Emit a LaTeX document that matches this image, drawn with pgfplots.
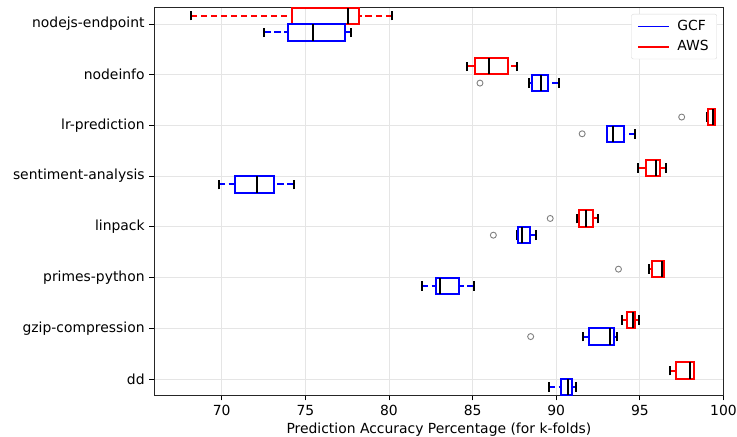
\documentclass[border=0pt]{standalone}
\usepackage{pgfplots}
\pgfplotsset{compat=1.18}
\usepgfplotslibrary{statistics}
\usepackage{fontspec}
\setmainfont{DejaVu Sans}
\usetikzlibrary{calc}
\newcommand{\fs}{\fontsize{13.9}{16}\selectfont}
\begin{document}
\fs
\begin{tikzpicture}
\begin{axis}[
  scale only axis, width=569pt, height=388pt,
  xmin=65.97, xmax=100, ymin=0.675, ymax=8.33,
  xtick={70,75,...,100},
  ytick={1,...,8},
  yticklabels={dd,gzip-compression,primes-python,linpack,sentiment-analysis,lr-prediction,nodeinfo,nodejs-endpoint},
  tick align=outside, tick pos=left,
  major tick length=4.9pt,
  every tick/.style={black, line width=0.8pt},
  axis line style={black!85, line width=0.9pt},
  grid=major, grid style={black!10, line width=0.8pt},
  xlabel={Prediction Accuracy Percentage (for k-folds)},
  xlabel style={yshift=2pt},
  /pgf/number format/assume math mode=true,
  tick label style={font=\fs},
  label style={font=\fs},
  boxplot/draw direction=x,
  boxplot/box extend=0.32,
  boxplot/whisker extend=0.19,
  boxplot/every median/.style={black, line width=2pt},
  boxplot/every whisker/.style={dash pattern=on 6.5pt off 3.5pt, line width=2pt},
  boxplot/every box/.style={line width=2pt},
  boxplot/draw/lower whisker/.code={%
    \draw[/pgfplots/boxplot/every whisker/.try]
      (boxplot box cs:\pgfplotsboxplotvalue{lower whisker},0.5) --
      (boxplot box cs:\pgfplotsboxplotvalue{lower quartile},0.5);
    \draw[black, line width=2pt]
      (boxplot whisker cs:\pgfplotsboxplotvalue{lower whisker},0) --
      (boxplot whisker cs:\pgfplotsboxplotvalue{lower whisker},1);
  },
  boxplot/draw/upper whisker/.code={%
    \draw[/pgfplots/boxplot/every whisker/.try]
      (boxplot box cs:\pgfplotsboxplotvalue{upper whisker},0.5) --
      (boxplot box cs:\pgfplotsboxplotvalue{upper quartile},0.5);
    \draw[black, line width=2pt]
      (boxplot whisker cs:\pgfplotsboxplotvalue{upper whisker},0) --
      (boxplot whisker cs:\pgfplotsboxplotvalue{upper whisker},1);
  },
  legend style={at={(1,1)}, xshift=-6.5pt, yshift=-6.7pt, anchor=north east,
    draw=black!15, rounded corners=2pt, font=\fs, row sep=4pt,
    inner xsep=6pt, inner ysep=4pt},
  legend cell align=left,
  legend image code/.code={\draw[#1, line width=1.5pt] (0pt,0pt) -- (31pt,0pt); \path (37pt,0pt);},
]
\addlegendimage{color=blue}
\addlegendentry{GCF}
\addlegendimage{color=red}
\addlegendentry{AWS}

% nodejs-endpoint
\addplot[red, boxplot prepared={draw position=8.165, lower whisker=68.15, lower quartile=74.2, median=77.53, upper quartile=78.23, upper whisker=80.18}] coordinates {};
\addplot[blue, boxplot prepared={draw position=7.835, lower whisker=72.55, lower quartile=73.96, median=75.45, upper quartile=77.39, upper whisker=77.75}] coordinates {};
% nodeinfo
\addplot[red, boxplot prepared={draw position=7.165, lower whisker=84.69, lower quartile=85.15, median=85.98, upper quartile=87.13, upper whisker=87.67}] coordinates {};
\addplot[blue, boxplot prepared={draw position=6.835, lower whisker=88.37, lower quartile=88.53, median=89.08, upper quartile=89.50, upper whisker=90.16}] coordinates {};
% lr-prediction
\addplot[red, boxplot prepared={draw position=6.165, lower whisker=99.0, lower quartile=99.08, median=99.35, upper quartile=99.5, upper whisker=99.5}] coordinates {};
\addplot[blue, boxplot prepared={draw position=5.835, lower whisker=93.04, lower quartile=93.06, median=93.38, upper quartile=94.03, upper whisker=94.73}] coordinates {};
% sentiment-analysis
\addplot[red, boxplot prepared={draw position=5.165, lower whisker=94.89, lower quartile=95.38, median=95.96, upper quartile=96.20, upper whisker=96.55}] coordinates {};
\addplot[blue, boxplot prepared={draw position=4.835, lower whisker=69.82, lower quartile=70.81, median=72.10, upper quartile=73.12, upper whisker=74.31}] coordinates {};
% linpack
\addplot[red, boxplot prepared={draw position=4.165, lower whisker=91.25, lower quartile=91.35, median=91.75, upper quartile=92.18, upper whisker=92.48}] coordinates {};
\addplot[blue, boxplot prepared={draw position=3.835, lower whisker=87.67, lower quartile=87.70, median=87.93, upper quartile=88.43, upper whisker=88.80}] coordinates {};
% primes-python
\addplot[red, boxplot prepared={draw position=3.165, lower whisker=95.54, lower quartile=95.70, median=96.31, upper quartile=96.42, upper whisker=96.42}] coordinates {};
\addplot[blue, boxplot prepared={draw position=2.835, lower whisker=81.95, lower quartile=82.80, median=83.06, upper quartile=84.19, upper whisker=85.07}] coordinates {};
% gzip-compression
\addplot[red, boxplot prepared={draw position=2.165, lower whisker=93.95, lower quartile=94.23, median=94.57, upper quartile=94.73, upper whisker=94.93}] coordinates {};
\addplot[blue, boxplot prepared={draw position=1.835, lower whisker=91.57, lower quartile=91.94, median=93.21, upper quartile=93.48, upper whisker=93.63}] coordinates {};
% dd
\addplot[red, boxplot prepared={draw position=1.165, lower whisker=96.83, lower quartile=97.15, median=98.01, upper quartile=98.22, upper whisker=98.22}] coordinates {};
\addplot[blue, boxplot prepared={draw position=0.835, lower whisker=89.54, lower quartile=90.28, median=90.69, upper quartile=90.95, upper whisker=91.17}] coordinates {};

% outliers
\addplot[only marks, mark=o, mark size=3pt, black!50, line width=0.9pt] coordinates {
  (85.44,6.835) (97.5,6.165) (91.55,5.835) (89.64,4.165) (86.24,3.835) (93.72,3.165) (88.47,1.835)
};
\coordinate (SW) at (rel axis cs:0,0);
\coordinate (NE) at (rel axis cs:1,1);
\end{axis}
\pgfresetboundingbox
\path ($(SW)+(-154.3pt,-41.5pt)$) rectangle ($(NE)+(13.5pt,7.3pt)$);
\end{tikzpicture}
\end{document}
